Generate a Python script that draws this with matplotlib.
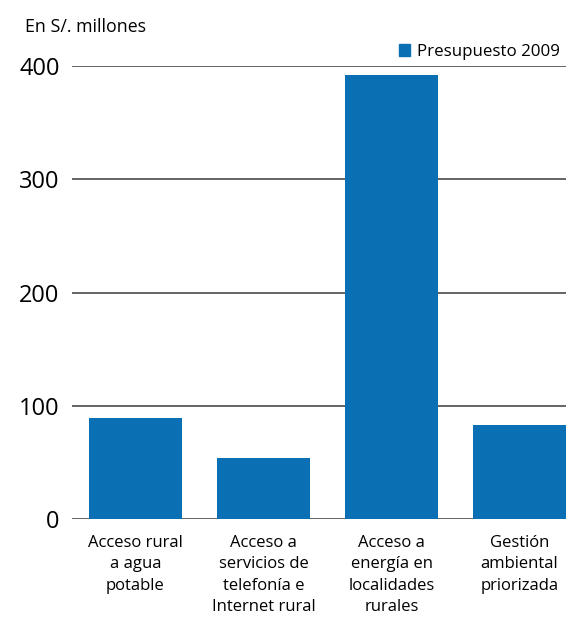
import matplotlib.pyplot as plt
from matplotlib.patches import Patch
import numpy as np

# Datos (En S/. millones)
categorias = ['Acceso rural\na agua\npotable',
              'Acceso a\nservicios de\ntelefonía e\nInternet rural',
              'Acceso a\nenergía en\nlocalidades\nrurales',
              'Gestión\nambiental\npriorizada']
presupuesto_2009 = [89, 54, 392, 83]
yticks = [0, 100, 200, 300, 400]

plt.rcParams['font.family'] = ['Open Sans', 'DejaVu Sans']

W, H = 566, 620
fig = plt.figure(figsize=(W / 100, H / 100), dpi=100)
ax = fig.add_axes([72 / W, (H - 519.3) / H, (W - 72) / W, (519.3 - 65.7) / H])

color = '#0b6fb4'
x = np.arange(len(categorias))
ax.bar(x, presupuesto_2009, width=0.727, color=color, zorder=3)

ax.set_xlim(-0.496, 3.363)
ax.set_ylim(0, 400)
ax.set_yticks(yticks)
ax.set_yticklabels([str(v) for v in yticks], fontsize=17)
for v in yticks:
    ax.axhline(v, color='#3a3a3a', linewidth=1.1, zorder=2)

ax.set_xticks(x)
ax.set_xticklabels(categorias, fontsize=12, linespacing=1.47, va='top')
ax.tick_params(axis='x', length=0, pad=11)
ax.tick_params(axis='y', length=0, pad=9)
for s in ax.spines.values():
    s.set_visible(False)

fig.text(25 / W, 1 - 27 / H, 'En S/. millones', fontsize=12.8, va='center', ha='left')

ax.legend(handles=[Patch(color=color, label='Presupuesto 2009')],
          loc='lower right', bbox_to_anchor=(1.0, 1.0), frameon=False,
          fontsize=12.2, handlelength=0.7, handleheight=0.7,
          handletextpad=0.4, borderaxespad=0.15, borderpad=0.2)

fig.savefig('out.png', dpi=100)
